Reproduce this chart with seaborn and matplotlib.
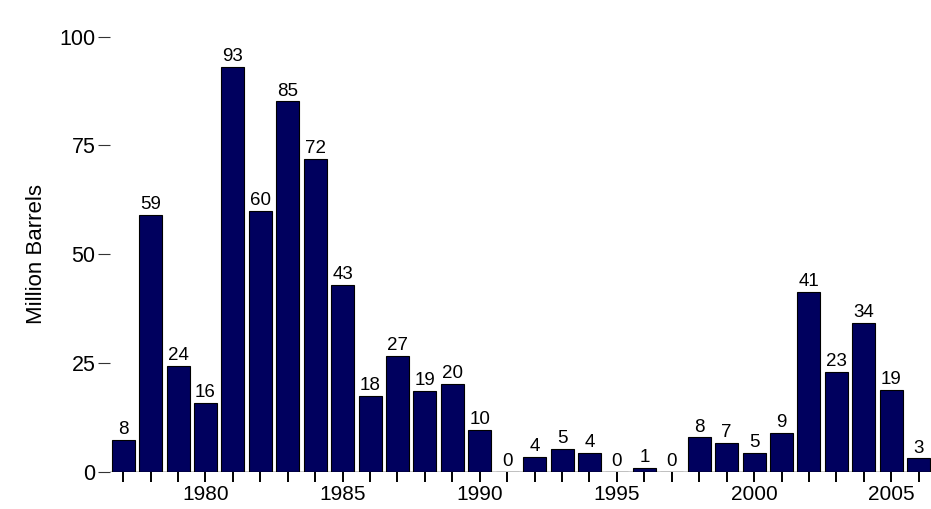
import pandas as pd
import seaborn as sns
import matplotlib.pyplot as plt

years = list(range(1977, 2007))
barrels = [7.4, 59.1, 24.4, 15.9, 93.0, 60.0, 85.1, 72.0, 43.0, 17.5,
           26.7, 18.6, 20.2, 9.7, 0.0, 3.4, 5.3, 4.4, 0.0, 0.85,
           0.0, 7.9, 6.6, 4.4, 8.9, 41.4, 23.0, 34.3, 18.9, 3.1]
labels = [8, 59, 24, 16, 93, 60, 85, 72, 43, 18,
          27, 19, 20, 10, 0, 4, 5, 4, 0, 1,
          0, 8, 7, 5, 9, 41, 23, 34, 19, 3]

df = pd.DataFrame({'year': years, 'barrels': barrels})

sns.set_theme(style='white')
plt.rcParams['font.family'] = ['Liberation Sans', 'DejaVu Sans']
plt.rcParams['text.color'] = 'black'
plt.rcParams['axes.labelcolor'] = 'black'
plt.rcParams['xtick.color'] = 'black'
plt.rcParams['ytick.color'] = 'black'

fig = plt.figure(figsize=(9.31, 5.09), dpi=100)
ax = fig.add_axes([0.118, 0.073, 0.882, 0.855])

sns.barplot(x='year', y='barrels', data=df, color='#00005e', saturation=1,
            width=0.84, edgecolor='black', linewidth=0.8, ax=ax)

for i, (v, lab) in enumerate(zip(barrels, labels)):
    ax.text(i, v + 0.4, str(lab), ha='center', va='bottom', fontsize=13.5)

ax.axhline(0, color='black', lw=1, zorder=3)

ax.set_xlim(-0.485, len(years) - 0.55)
ax.set_ylim(0, 100)
ax.set_yticks([0, 25, 50, 75, 100])
ax.set_xticks(range(len(years)))
ax.set_xticklabels([str(y) if y % 5 == 0 else '' for y in years])

for s in ax.spines.values():
    s.set_visible(False)

ax.tick_params(axis='x', bottom=True, length=7, width=1.4, color='black',
               pad=2.5, labelsize=15)
ax.tick_params(axis='y', left=True, length=8.5, width=0.8, color='#333333',
               pad=2, labelsize=15.5)

ax.set_xlabel('')
ax.set_ylabel('Million Barrels', fontsize=16, labelpad=9)

plt.savefig('out.png', dpi=100)
